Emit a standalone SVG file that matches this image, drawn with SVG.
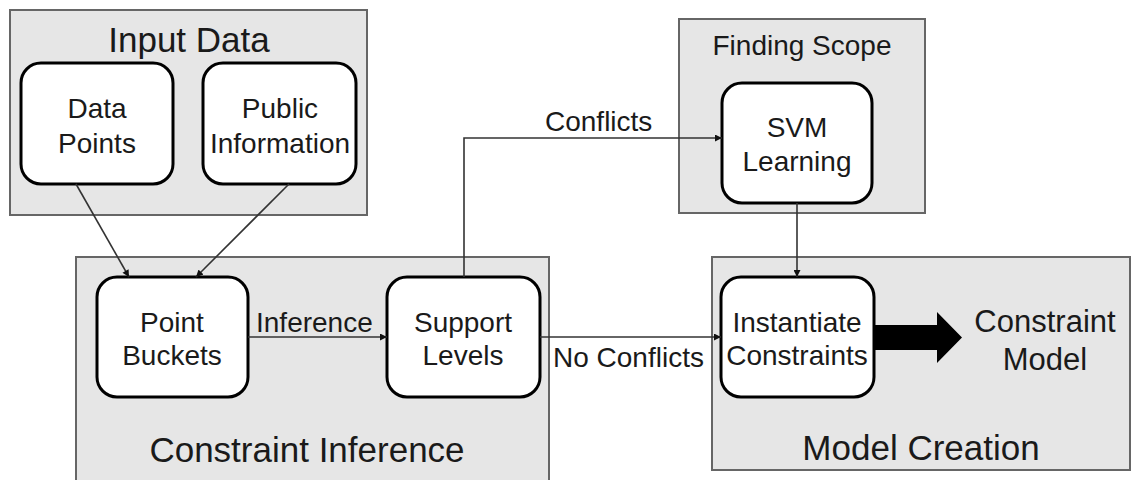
<svg xmlns="http://www.w3.org/2000/svg" width="1131" height="480" viewBox="0 0 1131 480">
<defs>
<marker id="ah" viewBox="0 0 10 10" refX="10" refY="5" markerWidth="8" markerHeight="7" markerUnits="userSpaceOnUse" orient="auto">
<path d="M0,0 L10,5 L0,10 z" fill="#111"/>
</marker>
<style>
.grp{fill:#e6e6e6;stroke:#666;stroke-width:2}
.node{fill:#fff;stroke:#000;stroke-width:3}
text{font-family:"Liberation Sans",Arial,sans-serif;fill:#1a1a1a}
.t{font-size:28px;text-anchor:middle}
.big{font-size:35px;text-anchor:middle}
.lbl{font-size:28px}
.conn{fill:none;stroke:#333;stroke-width:1.6}
</style>
</defs>
<rect width="1131" height="480" fill="#fff"/>
<g id="input-data">
<rect class="grp" x="10" y="10" width="357" height="205"/>
<text class="big" x="189" y="52">Input Data</text>
</g>
<g id="constraint-inference">
<rect class="grp" x="76" y="257" width="473" height="230"/>
<text class="big" x="307" y="462">Constraint Inference</text>
</g>
<g id="finding-scope">
<rect class="grp" x="679" y="19" width="246" height="194"/>
<text class="t" x="802" y="55">Finding Scope</text>
</g>
<g id="model-creation">
<rect class="grp" x="712" y="257" width="418" height="213"/>
<text class="big" x="921" y="460">Model Creation</text>
</g>
<g id="data-points">
<rect class="node" x="21" y="63" width="152" height="121" rx="20"/>
<text class="t" x="97" y="118">Data</text>
<text class="t" x="97" y="153">Points</text>
</g>
<g id="public-information">
<rect class="node" x="203" y="63" width="153" height="121" rx="20"/>
<text class="t" x="280" y="118">Public</text>
<text class="t" x="280" y="153">Information</text>
</g>
<g id="point-buckets">
<rect class="node" x="97" y="277" width="151" height="120" rx="20"/>
<text class="t" x="172" y="332">Point</text>
<text class="t" x="172" y="365">Buckets</text>
</g>
<g id="support-levels">
<rect class="node" x="387" y="277" width="153" height="120" rx="20"/>
<text class="t" x="463" y="332">Support</text>
<text class="t" x="463" y="365">Levels</text>
</g>
<g id="svm-learning">
<rect class="node" x="722" y="83" width="150" height="120" rx="20"/>
<text class="t" x="797" y="137">SVM</text>
<text class="t" x="797" y="171">Learning</text>
</g>
<g id="instantiate-constraints">
<rect class="node" x="721" y="277" width="153" height="120" rx="20"/>
<text class="t" x="797" y="332">Instantiate</text>
<text class="t" x="797" y="365">Constraints</text>
</g>
<g id="constraint-model">
<text class="t" x="1045" y="332" style="font-size:31px">Constraint</text>
<text class="t" x="1045" y="370" style="font-size:31px">Model</text>
</g>
<g id="connectors">
<line class="conn" x1="76" y1="184" x2="129" y2="277" marker-end="url(#ah)"/>
<line class="conn" x1="289" y1="184" x2="196" y2="277" marker-end="url(#ah)"/>
<line class="conn" x1="248" y1="337" x2="387" y2="337" marker-end="url(#ah)"/>
<polyline class="conn" points="464,277 464,138 722,138" marker-end="url(#ah)"/>
<line class="conn" x1="540" y1="337" x2="721" y2="337" marker-end="url(#ah)"/>
<line class="conn" x1="797" y1="203" x2="797" y2="277" marker-end="url(#ah)"/>
<polygon points="874,325 937,325 937,312 962,337.5 937,363 937,350 874,350" fill="#000"/>
<text class="lbl" x="256" y="332">Inference</text>
<text class="lbl" x="545" y="131">Conflicts</text>
<text class="lbl" x="553" y="367">No Conflicts</text>
</g>
</svg>
